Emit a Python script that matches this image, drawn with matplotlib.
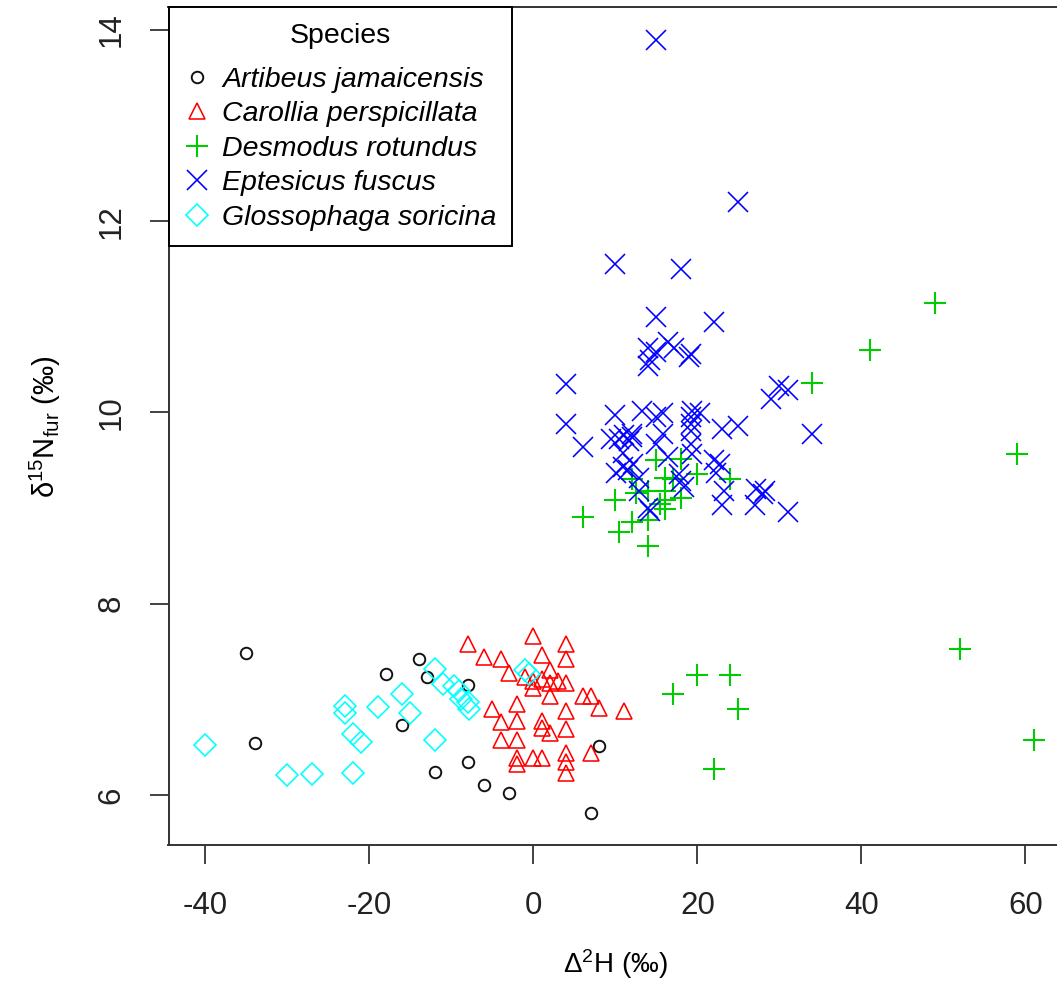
import numpy as np
import matplotlib
matplotlib.use("Agg")
import matplotlib.pyplot as plt

plt.rcParams['font.family'] = ['Liberation Sans', 'DejaVu Sans']
plt.rcParams['mathtext.default'] = 'regular'
plt.rcParams['axes.unicode_minus'] = False

# Artibeus jamaicensis
art_x = [-35, -34, -14, -18, -13, -8, -16, -12, -8, -6, -3, 8, 7]
art_y = [7.48, 6.54, 7.42, 7.26, 7.23, 7.15, 6.73, 6.24, 6.35, 6.10, 6.02, 6.51, 5.81]

# Carollia perspicillata
car_x = [-8, -6, -4, -3, 0, 4, 1, 4, 2, -1, 0, 1, 2, 3, 4, 0, 2, 6, 7, 8, 11, 4,
         -5, -2, -4, -2, 1, 1, 2, 4, -4, -2, -2, -2, 0, 1, 4, 4, 4, 7]
car_y = [7.58, 7.44, 7.42, 7.28, 7.66, 7.58, 7.46, 7.42, 7.31, 7.23, 7.19, 7.21,
         7.17, 7.19, 7.17, 7.12, 7.04, 7.04, 7.04, 6.91, 6.88, 6.88, 6.90, 6.95,
         6.76, 6.77, 6.77, 6.70, 6.65, 6.69, 6.58, 6.58, 6.39, 6.32, 6.39, 6.39,
         6.44, 6.34, 6.23, 6.44]

# Desmodus rotundus
des_x = [15, 18, 20, 24, 12, 16, 17, 14, 16, 12.5, 18, 10, 16, 15.5, 16, 12, 14,
         10.5, 14, 6, 34, 41, 49, 59, 52, 61, 25, 24, 20, 17, 22]
des_y = [9.50, 9.51, 9.36, 9.30, 9.30, 9.32, 9.30, 9.18, 9.18, 9.16, 9.11, 9.08,
         9.08, 9.04, 8.99, 8.85, 8.88, 8.75, 8.60, 8.91, 10.31, 10.65, 11.15,
         9.57, 7.53, 6.58, 6.90, 7.25, 7.25, 7.06, 6.27]

# Eptesicus fuscus
ept_x = [15, 25, 10, 18, 15, 22, 14, 15, 16.4, 17.2, 19.2, 19, 14, 14.2,
         4, 30, 31, 29, 4, 6, 34,
         10, 13.3, 15, 15.8, 19.4, 20.3, 19.2, 19.2, 19.2, 23, 25,
         10.5, 11, 12, 11.7, 12, 9.5, 15.8, 15, 19.2,
         10.9, 16.4, 19.4, 22.7, 22, 10.9, 11.5, 12.1, 12.9, 10.1, 17.8, 18.4, 18,
         22.3, 23.3, 23, 12.9, 14.2, 27.2, 28, 27, 31, 28.2, 14]
ept_y = [13.9, 12.2, 11.55, 11.5, 11.0, 10.95, 10.67, 10.63, 10.74, 10.67, 10.61,
         10.58, 10.49, 10.55,
         10.3, 10.28, 10.23, 10.14, 9.88, 9.64, 9.78,
         9.97, 10.02, 9.95, 9.99, 10.02, 9.99, 9.95, 9.88, 9.81, 9.83, 9.86,
         9.72, 9.76, 9.74, 9.70, 9.78, 9.72, 9.78, 9.67, 9.67,
         9.58, 9.53, 9.57, 9.46, 9.50, 9.43, 9.40, 9.46, 9.32, 9.37, 9.36, 9.22, 9.28,
         9.37, 9.18, 9.03, 9.18, 8.97, 9.20, 9.15, 9.03, 8.96, 9.18, 9.00]

# Glossophaga soricina
glo_x = [-40, -30, -27, -22, -23, -23, -19, -22, -21, -16, -15, -12, -12, -11,
         -9.7, -9.1, -8.8, -8, -7.8, -1, -0.5]
glo_y = [6.52, 6.21, 6.22, 6.23, 6.93, 6.86, 6.92, 6.64, 6.55, 7.06, 6.86, 6.57,
         7.32, 7.16, 7.14, 7.09, 7.00, 6.97, 6.90, 7.31, 7.27]

fig = plt.figure(figsize=(10.57, 9.84), dpi=100)
W, H = 1057, 984
left_px, top_px, bot_px = 168.5, 7.3, 845
xlim = (-44.5, 64.6)
px_per_x = 8.2
ax = fig.add_axes([left_px / W, (H - bot_px) / H,
                   (xlim[1] - xlim[0]) * px_per_x / W, (bot_px - top_px) / H])

lw = 1.15
ax.plot(art_x, art_y, 'o', ms=8.3, mfc='none', mec='#111111', mew=lw * 1.2,
        ls='none', label='Artibeus jamaicensis')
ax.plot(car_x, car_y, '^', ms=12, mfc='none', mec='red', mew=lw,
        ls='none', label='Carollia perspicillata')
ax.plot(des_x, des_y, '+', ms=16, mec='#00CD00', mew=lw * 1.3,
        ls='none', label='Desmodus rotundus')
ax.plot(ept_x, ept_y, 'x', ms=14, mec='blue', mew=lw,
        ls='none', label='Eptesicus fuscus')
ax.plot(glo_x, glo_y, 'D', ms=11, mfc='none', mec='cyan', mew=lw,
        ls='none', label='Glossophaga soricina')

ax.set_xlim(xlim)
ax.set_ylim(5.477, 14.237)
ax.set_xticks([-40, -20, 0, 20, 40, 60])
ax.set_yticks([6, 8, 10, 12, 14])
ax.tick_params(direction='out', length=14, width=1.3, labelsize=22.5,
               color='#333333', labelcolor='#222222')
ax.tick_params(axis='x', pad=19)
ax.tick_params(axis='y', pad=16)
for lab in ax.get_yticklabels():
    lab.set_rotation(90)
    lab.set_va('center')
for s in ax.spines.values():
    s.set_linewidth(1.4)
    s.set_color('#333333')

ax.set_xlabel('Δ$^{2}$H (‰)', fontsize=20, labelpad=19)
ax.set_ylabel('δ$^{15}$N$_{fur}$ (‰)', fontsize=21, labelpad=24)

leg = ax.legend(loc='upper left', bbox_to_anchor=(0, 1), borderaxespad=0,
                title='Species', fancybox=False, framealpha=1,
                edgecolor='black', prop={'style': 'italic', 'size': 20.5},
                title_fontsize=20.5, handlelength=0.9, handletextpad=0.45,
                labelspacing=0.3, borderpad=0.5)
leg.get_frame().set_linewidth(1.4)
# wider gap between title and entries, more room at the bottom as in R
leg._legend_box.sep = 13
leg._legend_box.pad = 11

fig.savefig('out.png', dpi=100)
